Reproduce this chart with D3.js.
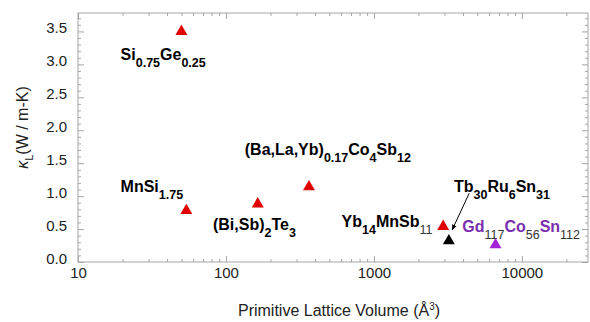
<!DOCTYPE html>
<html>
<head>
<meta charset="utf-8">
<script src="https://cdn.jsdelivr.net/npm/d3@7"></script>
<style>
  body { margin: 0; background: #fff; }
  text { font-family: "Liberation Sans", Arial, sans-serif; }
</style>
</head>
<body>
<div id="chart"></div>
<script>
// values
var names = ["Si0.75Ge0.25", "MnSi1.75", "(Bi,Sb)2Te3", "(Ba,La,Yb)0.17Co4Sb12", "Yb14MnSb11", "Tb30Ru6Sn31", "Gd117Co56Sn112"];
var volumes = [50, 54, 164, 364, 2940, 3210, 6640];
var kappas = [3.5, 0.78, 0.88, 1.14, 0.54, 0.32, 0.26];
var colors = ["#e00000", "#e00000", "#e00000", "#e00000", "#e00000", "#000000", "#a321d6"];

var xMajor = [10, 100, 1000, 10000];
var yMajor = [0, 0.5, 1, 1.5, 2, 2.5, 3, 3.5];

// label pieces: [text, subscript?, bold?] and anchor (left, baseline) in data units
var labels = [
  {parts: [["Si",0,1],["0.75",1,1],["Ge",0,1],["0.25",1,1]], x: 19.4, y: 3.07, color: "#000"},
  {parts: [["MnSi",0,1],["1.75",1,1]], x: 19.4, y: 1.067, color: "#000"},
  {parts: [["(Bi,Sb)",0,1],["2",1,1],["Te",0,1],["3",1,1]], x: 81.7, y: 0.486, color: "#000"},
  {parts: [["(Ba,La,Yb)",0,1],["0.17",1,1],["Co",0,1],["4",1,1],["Sb",0,1],["12",1,1]], x: 134, y: 1.624, color: "#000"},
  {parts: [["Yb",0,1],["14",1,1],["MnSb",0,1],["11",1,0]], x: 605, y: 0.531, color: "#000"},
  {parts: [["Tb",0,1],["30",1,1],["Ru",0,1],["6",1,1],["Sn",0,1],["31",1,1]], x: 3475, y: 1.063, color: "#000"},
  {parts: [["Gd",0,1],["117",1,0],["Co",0,1],["56",1,0],["Sn",0,1],["112",1,0]], x: 3955, y: 0.455, color: "#7a2fae"}
];
var arrow = {x1: 4405, y1: 1.043, x2: 3381, y2: 0.486};

var W = 590, H = 322;
var margin = {top: 13, right: 2, bottom: 60, left: 78};
var width = W - margin.left - margin.right,
    height = H - margin.top - margin.bottom;

var svg = d3.select("#chart").append("svg")
  .attr("width", W).attr("height", H);
var g = svg.append("g")
  .attr("transform", "translate(" + margin.left + "," + margin.top + ")");

var x = d3.scaleLog().domain([10, 28000]).range([0, width]);
var y = d3.scaleLinear().domain([0, 3.78]).range([height, 0]);

var xMinor = [];
[10, 100, 1000, 10000].forEach(function(d) {
  for (var k = 2; k <= 9; k++) if (d * k <= 28000) xMinor.push(d * k);
});
var yMinor = d3.range(0, 3.75, 0.1).filter(function(v) { return Math.abs(v * 2 - Math.round(v * 2)) > 1e-6; });

var axisColor = "#a6a6a6";

function styleAxis(sel) {
  sel.select(".domain").remove();
  sel.selectAll("line").attr("stroke", axisColor);
  sel.selectAll("text").attr("fill", "#222").style("font-size", "15px");
}

// bottom
g.append("g").attr("transform", "translate(0," + height + ")")
  .call(d3.axisBottom(x).tickValues(xMajor).tickSize(-6).tickPadding(5).tickFormat(d3.format("d")))
  .call(styleAxis);
g.append("g").attr("transform", "translate(0," + height + ")")
  .call(d3.axisBottom(x).tickValues(xMinor).tickSize(-3).tickFormat(""))
  .call(styleAxis);
// top
g.append("g")
  .call(d3.axisTop(x).tickValues(xMajor).tickSize(-6).tickFormat(""))
  .call(styleAxis);
g.append("g")
  .call(d3.axisTop(x).tickValues(xMinor).tickSize(-3).tickFormat(""))
  .call(styleAxis);
// left
g.append("g")
  .call(d3.axisLeft(y).tickValues(yMajor).tickSize(-6).tickPadding(11).tickFormat(d3.format(".1f")))
  .call(styleAxis)
  .selectAll("text").attr("dy", "0.1em");
g.append("g")
  .call(d3.axisLeft(y).tickValues(yMinor).tickSize(-3).tickFormat(""))
  .call(styleAxis);
// right
g.append("g").attr("transform", "translate(" + width + ",0)")
  .call(d3.axisRight(y).tickValues(yMajor).tickSize(-6).tickFormat(""))
  .call(styleAxis);
g.append("g").attr("transform", "translate(" + width + ",0)")
  .call(d3.axisRight(y).tickValues(yMinor).tickSize(-3).tickFormat(""))
  .call(styleAxis);

// frame
g.append("rect")
  .attr("width", width).attr("height", height)
  .attr("fill", "none").attr("stroke", axisColor).attr("stroke-width", 1);

// points
var pts = names.map(function(n, i) { return {name: n, v: volumes[i], k: kappas[i], c: colors[i]}; });
g.selectAll("path.pt")
  .data(pts)
  .enter().append("path")
    .attr("class", "pt")
    .attr("d", d3.symbol().type(d3.symbolTriangle).size(62))
    .attr("transform", function(d) { return "translate(" + x(d.v) + "," + y(d.k) + ")"; })
    .attr("fill", function(d) { return d.c; });

// labels
labels.forEach(function(l) {
  var t = g.append("text")
    .attr("x", x(l.x)).attr("y", y(l.y))
    .attr("fill", l.color)
    .style("font-size", "16px");
  var shifted = false;
  l.parts.forEach(function(p) {
    var ts = t.append("tspan").text(p[0])
      .style("font-weight", p[2] ? "bold" : "normal");
    if (p[1]) {
      ts.style("font-size", "12.5px").attr("dy", shifted ? 0 : 7);
      if (!p[2]) ts.attr("fill", "#333");
      shifted = true;
    } else {
      ts.attr("dy", shifted ? -7 : 0);
      shifted = false;
    }
  });
});

// arrow for Tb30Ru6Sn31
svg.append("defs").append("marker")
  .attr("id", "ah").attr("viewBox", "0 0 10 10")
  .attr("refX", 9).attr("refY", 5)
  .attr("markerWidth", 6).attr("markerHeight", 6)
  .attr("orient", "auto")
  .append("path").attr("d", "M0,1 L10,5 L0,9 Z").attr("fill", "#000");
g.append("line")
  .attr("x1", x(arrow.x1)).attr("y1", y(arrow.y1))
  .attr("x2", x(arrow.x2)).attr("y2", y(arrow.y2))
  .attr("stroke", "#000").attr("stroke-width", 1)
  .attr("marker-end", "url(#ah)");

// axis titles
svg.append("text")
  .attr("x", margin.left + width / 2 + 6).attr("y", 316)
  .attr("text-anchor", "middle")
  .attr("fill", "#222")
  .style("font-size", "16px")
  .html("Primitive Lattice Volume (Å<tspan dy='-6' style='font-size:10px'>3</tspan><tspan dy='6'>)</tspan>");

var yt = svg.append("text")
  .attr("transform", "translate(28," + (margin.top + height / 2 - 10) + ") rotate(-90)")
  .attr("text-anchor", "middle")
  .attr("fill", "#222")
  .style("font-size", "16px");
yt.append("tspan").text("κ").style("font-style", "italic");
yt.append("tspan").text("L").attr("dy", 5).style("font-size", "11px");
yt.append("tspan").text("(W / m-K)").attr("dy", -5);
</script>
</body>
</html>
